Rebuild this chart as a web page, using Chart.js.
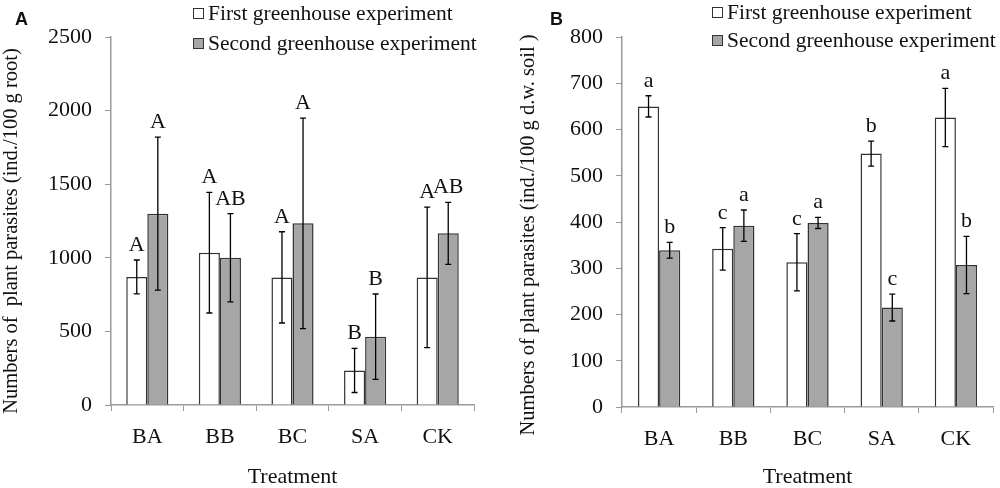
<!DOCTYPE html>
<html>
<head>
<meta charset="utf-8">
<script src="https://cdn.jsdelivr.net/npm/chart.js@4.4.1/dist/chart.umd.min.js"></script>
<style>
  html, body { margin: 0; padding: 0; background: #fff; }
  #wrap { position: relative; width: 1000px; height: 488px; }
  canvas { position: absolute; top: 0; }
  #graphA { left: 0; }
  #graphB { left: 500px; }
</style>
</head>
<body>
<div id="wrap">
  <canvas id="graphA" width="500" height="488"></canvas>
  <canvas id="graphB" width="500" height="488"></canvas>
</div>
<script>
// data
const treatments = ['BA', 'BB', 'BC', 'SA', 'CK'];
const seriesNames = ['First greenhouse experiment', 'Second greenhouse experiment'];

// panel A: per 100 g root
const firstRoot = [870, 1035, 867, 235, 867];
const firstRootErr = [115, 410, 310, 150, 477];
const firstRootLetters = ['A', 'A', 'A', 'B', 'A'];
const secondRoot = [1300, 1000, 1234, 464, 1166];
const secondRootErr = [520, 300, 715, 290, 210];
const secondRootLetters = ['A', 'AB', 'A', 'B', 'AB'];

// panel B: per 100 g d.w. soil
const firstSoil = [650, 342, 313, 548, 626];
const firstSoilErr = [23, 46, 62, 27, 63];
const firstSoilLetters = ['a', 'c', 'c', 'b', 'a'];
const secondSoil = [339, 392, 398, 215, 307];
const secondSoilErr = [17, 34, 12, 29, 62];
const secondSoilLetters = ['b', 'a', 'a', 'c', 'b'];

const serif = 'Liberation Serif, Times New Roman, serif';
const textColor = '#111';
const axisColor = '#9a9a9a';

// error bars + significance letters, drawn through the chart scales
const errorBarPlugin = {
    id: 'errorBars',
    afterDatasetsDraw(chart) {
        const ctx = chart.ctx;
        const yScale = chart.scales.y;
        chart.data.datasets.forEach((ds, i) => {
            const meta = chart.getDatasetMeta(i);
            meta.data.forEach((bar, j) => {
                const v = ds.data[j];
                const e = ds.errors[j];
                const yTop = yScale.getPixelForValue(v + e);
                const yBot = yScale.getPixelForValue(v - e);
                ctx.save();
                ctx.strokeStyle = '#000';
                ctx.lineWidth = 1.3;
                ctx.beginPath();
                ctx.moveTo(bar.x, yTop);
                ctx.lineTo(bar.x, yBot);
                ctx.moveTo(bar.x - 3, yTop);
                ctx.lineTo(bar.x + 3, yTop);
                ctx.moveTo(bar.x - 3, yBot);
                ctx.lineTo(bar.x + 3, yBot);
                ctx.stroke();
                ctx.fillStyle = textColor;
                ctx.font = '22px ' + serif;
                ctx.textAlign = 'center';
                ctx.textBaseline = 'alphabetic';
                ctx.fillText(ds.letters[j], bar.x, yTop - 9);
                ctx.restore();
            });
        });
    }
};

// stacked legend, y axis title and panel letter
const legendPlugin = {
    id: 'sideLegend',
    afterDraw(chart) {
        const ctx = chart.ctx;
        const o = chart.options.plugins.sideLegend;
        ctx.save();
        chart.data.datasets.forEach((ds, i) => {
            const y = o.y[i];
            ctx.fillStyle = ds.backgroundColor;
            ctx.fillRect(o.x, y - 5, 10, 10);
            ctx.strokeStyle = '#333';
            ctx.lineWidth = 1;
            ctx.strokeRect(o.x + 0.5, y - 4.5, 10, 10);
            ctx.fillStyle = textColor;
            ctx.font = '21.5px ' + serif;
            ctx.textAlign = 'left';
            ctx.textBaseline = 'middle';
            ctx.fillText(ds.label, o.x + 15, y + 1);
        });

        // y title, rotated
        ctx.save();
        ctx.translate(o.titleX, o.titleY);
        ctx.rotate(-Math.PI / 2);
        ctx.font = '20.5px ' + serif;
        ctx.textAlign = 'center';
        ctx.textBaseline = 'middle';
        ctx.fillText(o.yTitle, 0, 0);
        ctx.restore();

        ctx.font = 'bold 18px Liberation Sans, Arial, sans-serif';
        ctx.textAlign = 'left';
        ctx.textBaseline = 'alphabetic';
        ctx.fillText(o.panel, o.panelX, 25);
        ctx.restore();
    }
};

function makeChart(id, p) {
    return new Chart(document.getElementById(id).getContext('2d'), {
        type: 'bar',
        data: {
            labels: treatments,
            datasets: [{
                label: seriesNames[0],
                data: p.first,
                errors: p.firstErr,
                letters: p.firstLetters,
                backgroundColor: '#ffffff',
                borderColor: '#333333',
                borderWidth: 1.5,
                categoryPercentage: p.catPct,
                barPercentage: 1
            }, {
                label: seriesNames[1],
                data: p.second,
                errors: p.secondErr,
                letters: p.secondLetters,
                backgroundColor: '#a6a6a6',
                borderColor: '#333333',
                borderWidth: 1.5,
                categoryPercentage: p.catPct,
                barPercentage: 1
            }]
        },
        options: {
            responsive: false,
            animation: false,
            layout: { padding: { top: 37, right: p.padRight, left: 0, bottom: 0 } },
            plugins: {
                legend: { display: false },
                tooltip: { enabled: false },
                sideLegend: {
                    x: p.legendX, y: p.legendY, panel: p.panel, panelX: p.panelX,
                    yTitle: p.yTitle, titleX: p.titleX, titleY: p.titleY
                }
            },
            scales: {
                x: {
                    grid: { drawOnChartArea: false, tickLength: 6, color: axisColor, offset: true },
                    border: { color: axisColor, width: 1.5 },
                    ticks: { color: textColor, font: { family: serif, size: 22 }, padding: 13 },
                    title: { display: true, text: 'Treatment', color: textColor, font: { family: serif, size: 22 }, padding: { top: 0, bottom: -2 } },
                    afterFit(scale) { scale.height = p.xHeight; }
                },
                y: {
                    min: 0,
                    max: p.max,
                    grid: { drawOnChartArea: false, tickLength: 6, color: axisColor },
                    border: { color: axisColor, width: 1.5 },
                    ticks: {
                        stepSize: p.step, color: textColor, font: { family: serif, size: 22 }, padding: 13,
                        callback: v => String(v)
                    },
                    afterFit(scale) { scale.width = p.yWidth; }
                }
            }
        },
        plugins: [errorBarPlugin, legendPlugin]
    });
}

makeChart('graphA', {
    first: firstRoot, firstErr: firstRootErr, firstLetters: firstRootLetters,
    second: secondRoot, secondErr: secondRootErr, secondLetters: secondRootLetters,
    max: 2500, step: 500,
    yTitle: 'Numbers of  plant parasites (ind./100 g root)',
    yWidth: 111, titleX: 12, titleY: 231, xHeight: 83, padRight: 26, catPct: 0.58,
    legendX: 193, legendY: [13, 43], panel: 'A', panelX: 15
});

makeChart('graphB', {
    first: firstSoil, firstErr: firstSoilErr, firstLetters: firstSoilLetters,
    second: secondSoil, secondErr: secondSoilErr, secondLetters: secondSoilLetters,
    max: 800, step: 100,
    yTitle: 'Numbers of plant parasites (ind./100 g d.w. soil )',
    yWidth: 122, titleX: 29, titleY: 235, xHeight: 81, padRight: 7, catPct: 0.57,
    legendX: 212, legendY: [12, 40], panel: 'B', panelX: 50
});
</script>
</body>
</html>
